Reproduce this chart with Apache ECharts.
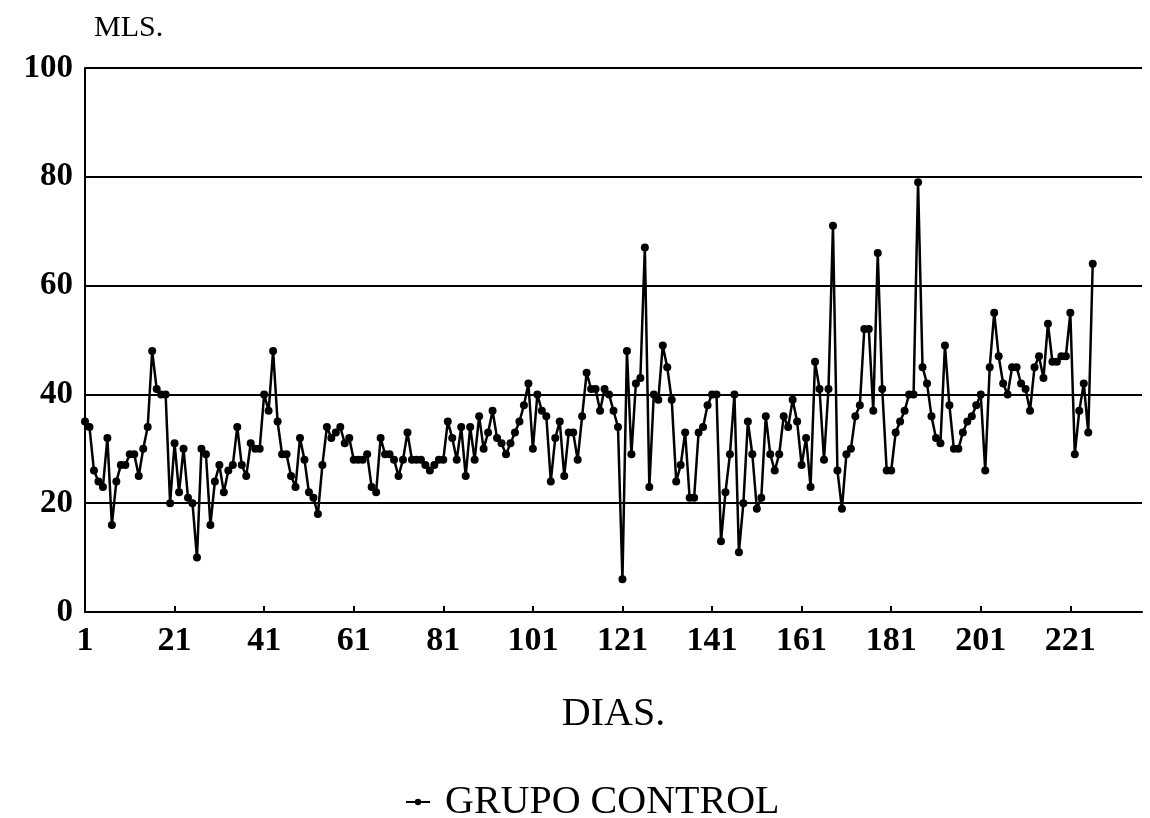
<!DOCTYPE html>
<html lang="es">
<head>
  <meta charset="UTF-8">
  <title>Grupo control - MLS. por dia</title>
  <script src="https://cdn.jsdelivr.net/npm/echarts@6.0.0/dist/echarts.min.js"></script>
  <style>
    html, body { margin: 0; padding: 0; background: #fff; }
    #grafico { width: 1150px; height: 818px; }
  </style>
</head>
<body>
<div id="grafico"></div>
<script>
// eje x: dias 1..237 (la serie llega hasta el dia 226)
var dias = [];
for (var d = 1; d <= 237; d++) dias.push(String(d));

var ticksY = [0, 20, 40, 60, 80, 100];

// MLS. por dia, grupo control
var grupoControl = [
  35, 34, 26, 24, 23, 32, 16, 24, 27, 27,
  29, 29, 25, 30, 34, 48, 41, 40, 40, 20,
  31, 22, 30, 21, 20, 10, 30, 29, 16, 24,
  27, 22, 26, 27, 34, 27, 25, 31, 30, 30,
  40, 37, 48, 35, 29, 29, 25, 23, 32, 28,
  22, 21, 18, 27, 34, 32, 33, 34, 31, 32,
  28, 28, 28, 29, 23, 22, 32, 29, 29, 28,
  25, 28, 33, 28, 28, 28, 27, 26, 27, 28,
  28, 35, 32, 28, 34, 25, 34, 28, 36, 30,
  33, 37, 32, 31, 29, 31, 33, 35, 38, 42,
  30, 40, 37, 36, 24, 32, 35, 25, 33, 33,
  28, 36, 44, 41, 41, 37, 41, 40, 37, 34,
  6, 48, 29, 42, 43, 67, 23, 40, 39, 49,
  45, 39, 24, 27, 33, 21, 21, 33, 34, 38,
  40, 40, 13, 22, 29, 40, 11, 20, 35, 29,
  19, 21, 36, 29, 26, 29, 36, 34, 39, 35,
  27, 32, 23, 46, 41, 28, 41, 71, 26, 19,
  29, 30, 36, 38, 52, 52, 37, 66, 41, 26,
  26, 33, 35, 37, 40, 40, 79, 45, 42, 36,
  32, 31, 49, 38, 30, 30, 33, 35, 36, 38,
  40, 26, 45, 55, 47, 42, 40, 45, 45, 42,
  41, 37, 45, 47, 43, 53, 46, 46, 47, 47,
  55, 29, 37, 42, 33, 64
];

var fuente = '"Liberation Serif", "DejaVu Serif", serif';

var myChart = echarts.init(document.getElementById('grafico'), null, { renderer: 'canvas' });

var option = {
  backgroundColor: '#fff',
  animation: false,
  title: {
    text: 'MLS.',
    left: 89,
    top: 8,
    textStyle: { fontFamily: fuente, fontSize: 30, fontWeight: 'normal', color: '#000' }
  },
  legend: {
    data: ['GRUPO CONTROL'],
    left: 400,
    top: 777,
    itemWidth: 24,
    itemHeight: 8,
    textStyle: { fontFamily: fuente, fontSize: 40, color: '#000', padding: [0, 0, 0, 10] }
  },
  grid: { left: 85, right: 8, top: 68, bottom: 206, containLabel: false },
  xAxis: {
    type: 'category',
    data: dias,
    boundaryGap: false,
    name: 'DIAS.',
    nameLocation: 'middle',
    nameGap: 82,
    nameTextStyle: { fontFamily: fuente, fontSize: 40, color: '#000' },
    axisLine: { lineStyle: { color: '#000', width: 2 } },
    axisTick: {
      inside: true, length: 6,
      interval: function (i) { return i % 20 === 0; },
      lineStyle: { color: '#000', width: 2 }
    },
    axisLabel: {
      interval: function (i) { return i % 20 === 0; },
      margin: 12,
      fontFamily: fuente, fontSize: 34, fontWeight: 'bold', color: '#000'
    },
    splitLine: { show: false }
  },
  yAxis: {
    type: 'value',
    min: ticksY[0],
    max: ticksY[ticksY.length - 1],
    interval: 20,
    axisLine: { show: true, lineStyle: { color: '#000', width: 2 } },
    axisTick: { show: false },
    axisLabel: { margin: 12, fontFamily: fuente, fontSize: 33, fontWeight: 'bold', color: '#000' },
    splitLine: { lineStyle: { color: '#000', width: 2 } }
  },
  series: [
    {
      name: 'GRUPO CONTROL',
      type: 'line',
      data: grupoControl,
      showSymbol: true,
      showAllSymbol: true,
      symbol: 'circle',
      symbolSize: 8,
      itemStyle: { color: '#000' },
      lineStyle: { color: '#000', width: 2.5 }
    }
  ]
};

myChart.setOption(option);
</script>
</body>
</html>
